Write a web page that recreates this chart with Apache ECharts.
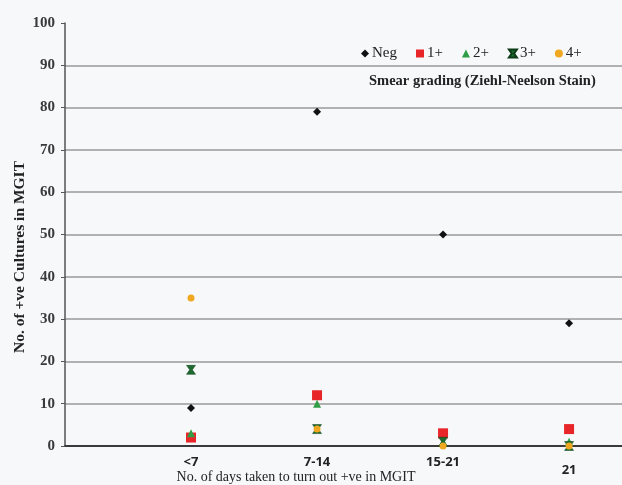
<!DOCTYPE html>
<html>
<head>
<meta charset="utf-8">
<script src="https://cdn.jsdelivr.net/npm/echarts@6/dist/echarts.min.js"></script>
<style>html,body{margin:0;padding:0;background:#f7f8fa;}#c{width:622px;height:485px;}</style>
</head>
<body>
<div id="c"></div>
<script>
var categories = ['<7', '7-14', '15-21', '21'];
var negVals = [9, 79, 50, 29];
var plus1Vals = [2, 12, 3, 4];
var plus2Vals = [3, 10, 1, 1];
var plus3Vals = [18, 4, 1, 0];
var plus4Vals = [35, 4, 0, 0];
var yTicks = [0, 10, 20, 30, 40, 50, 60, 70, 80, 90, 100];

function pts(vals) { return vals.map(function (v, i) { return [i + 1, v]; }); }
var serif = '"Liberation Serif", "DejaVu Serif", serif';
var hourglass = 'path://M0,0 L10,0 L6.5,5 L10,10 L0,10 L3.5,5 Z';

var chart = echarts.init(document.getElementById('c'));
var gridColors = yTicks.map(function (t, i) { return (i === 0 || i === yTicks.length - 1) ? 'rgba(0,0,0,0)' : '#9a9a9a'; });

chart.setOption({
  backgroundColor: '#f7f8fa',
  animation: false,
  grid: { left: 65, right: 0, top: 23, bottom: 39 },
  legend: {
    left: 356, top: 41, itemGap: 19, itemWidth: 8, itemHeight: 8,
    textStyle: { fontFamily: serif, fontSize: 15, color: '#222', padding: [0, 0, 0, -2] },
    data: [
      { name: 'Neg' }, { name: '1+' }, { name: '2+' },
      { name: '3+', icon: hourglass },
      { name: '4+' }
    ]
  },
  graphic: [
    { type: 'text', left: 369, top: 74, style: { text: 'Smear grading (Ziehl-Neelson Stain)', font: 'bold 14.5px ' + serif, fill: '#222' } },
    { type: 'text', x: 20, y: 257, rotation: Math.PI / 2, style: { text: 'No. of +ve Cultures in MGIT', font: 'bold 15.5px ' + serif, fill: '#222', align: 'center', verticalAlign: 'middle' } },
    { type: 'text', x: 296, y: 477, style: { text: 'No. of days taken to turn out +ve in MGIT', font: '14px ' + serif, fill: '#222', align: 'center', verticalAlign: 'middle' } }
  ],
  xAxis: {
    type: 'value', min: 0, max: 4.42, interval: 1,
    axisLine: { lineStyle: { color: '#3a3a3a', width: 2 } },
    axisTick: { show: false },
    splitLine: { show: false },
    axisLabel: {
      margin: 10, showMaxLabel: false,
      fontFamily: '"Open Sans", "Liberation Sans", sans-serif', fontWeight: 'bold', fontSize: 13, color: '#222',
      formatter: function (v) {
        var i = Math.round(v);
        if (Math.abs(v - i) > 1e-6 || i < 1 || i > categories.length) return '';
        return i === 4 ? '{low|' + categories[i - 1] + '}' : categories[i - 1];
      },
      rich: { low: { padding: [8, 0, 0, 0], fontFamily: '"Open Sans", "Liberation Sans", sans-serif', fontWeight: 'bold', fontSize: 13, color: '#222' } }
    }
  },
  yAxis: {
    type: 'value', min: 0, max: 100, interval: 10,
    axisLine: { show: true, lineStyle: { color: '#555', width: 1.5 } },
    axisTick: { show: true, length: 4, lineStyle: { color: '#555' } },
    splitLine: { show: true, lineStyle: { color: gridColors, width: 1.5 } },
    axisLabel: { margin: 10, fontFamily: serif, fontSize: 15, color: '#3a3a3a', fontWeight: 'bold' }
  },
  series: [
    { name: 'Neg', type: 'scatter', data: pts(negVals), symbol: 'diamond', symbolSize: 8, itemStyle: { color: '#111', opacity: 1 } },
    { name: '1+', type: 'scatter', data: pts(plus1Vals), symbol: 'rect', symbolSize: 10, itemStyle: { color: '#e8262a', opacity: 1 } },
    { name: '2+', type: 'scatter', data: pts(plus2Vals), symbol: 'triangle', symbolSize: 8, itemStyle: { color: '#2f9e46', opacity: 1 } },
    { name: '3+', type: 'scatter', data: pts(plus3Vals), symbol: hourglass, symbolSize: 9, itemStyle: { color: '#1d6b2e', borderColor: '#0d3a16', borderWidth: 0.5, opacity: 1 } },
    { name: '4+', type: 'scatter', data: pts(plus4Vals), symbol: 'circle', symbolSize: 7, itemStyle: { color: '#f0a820', opacity: 1 } }
  ]
});
</script>
</body>
</html>
